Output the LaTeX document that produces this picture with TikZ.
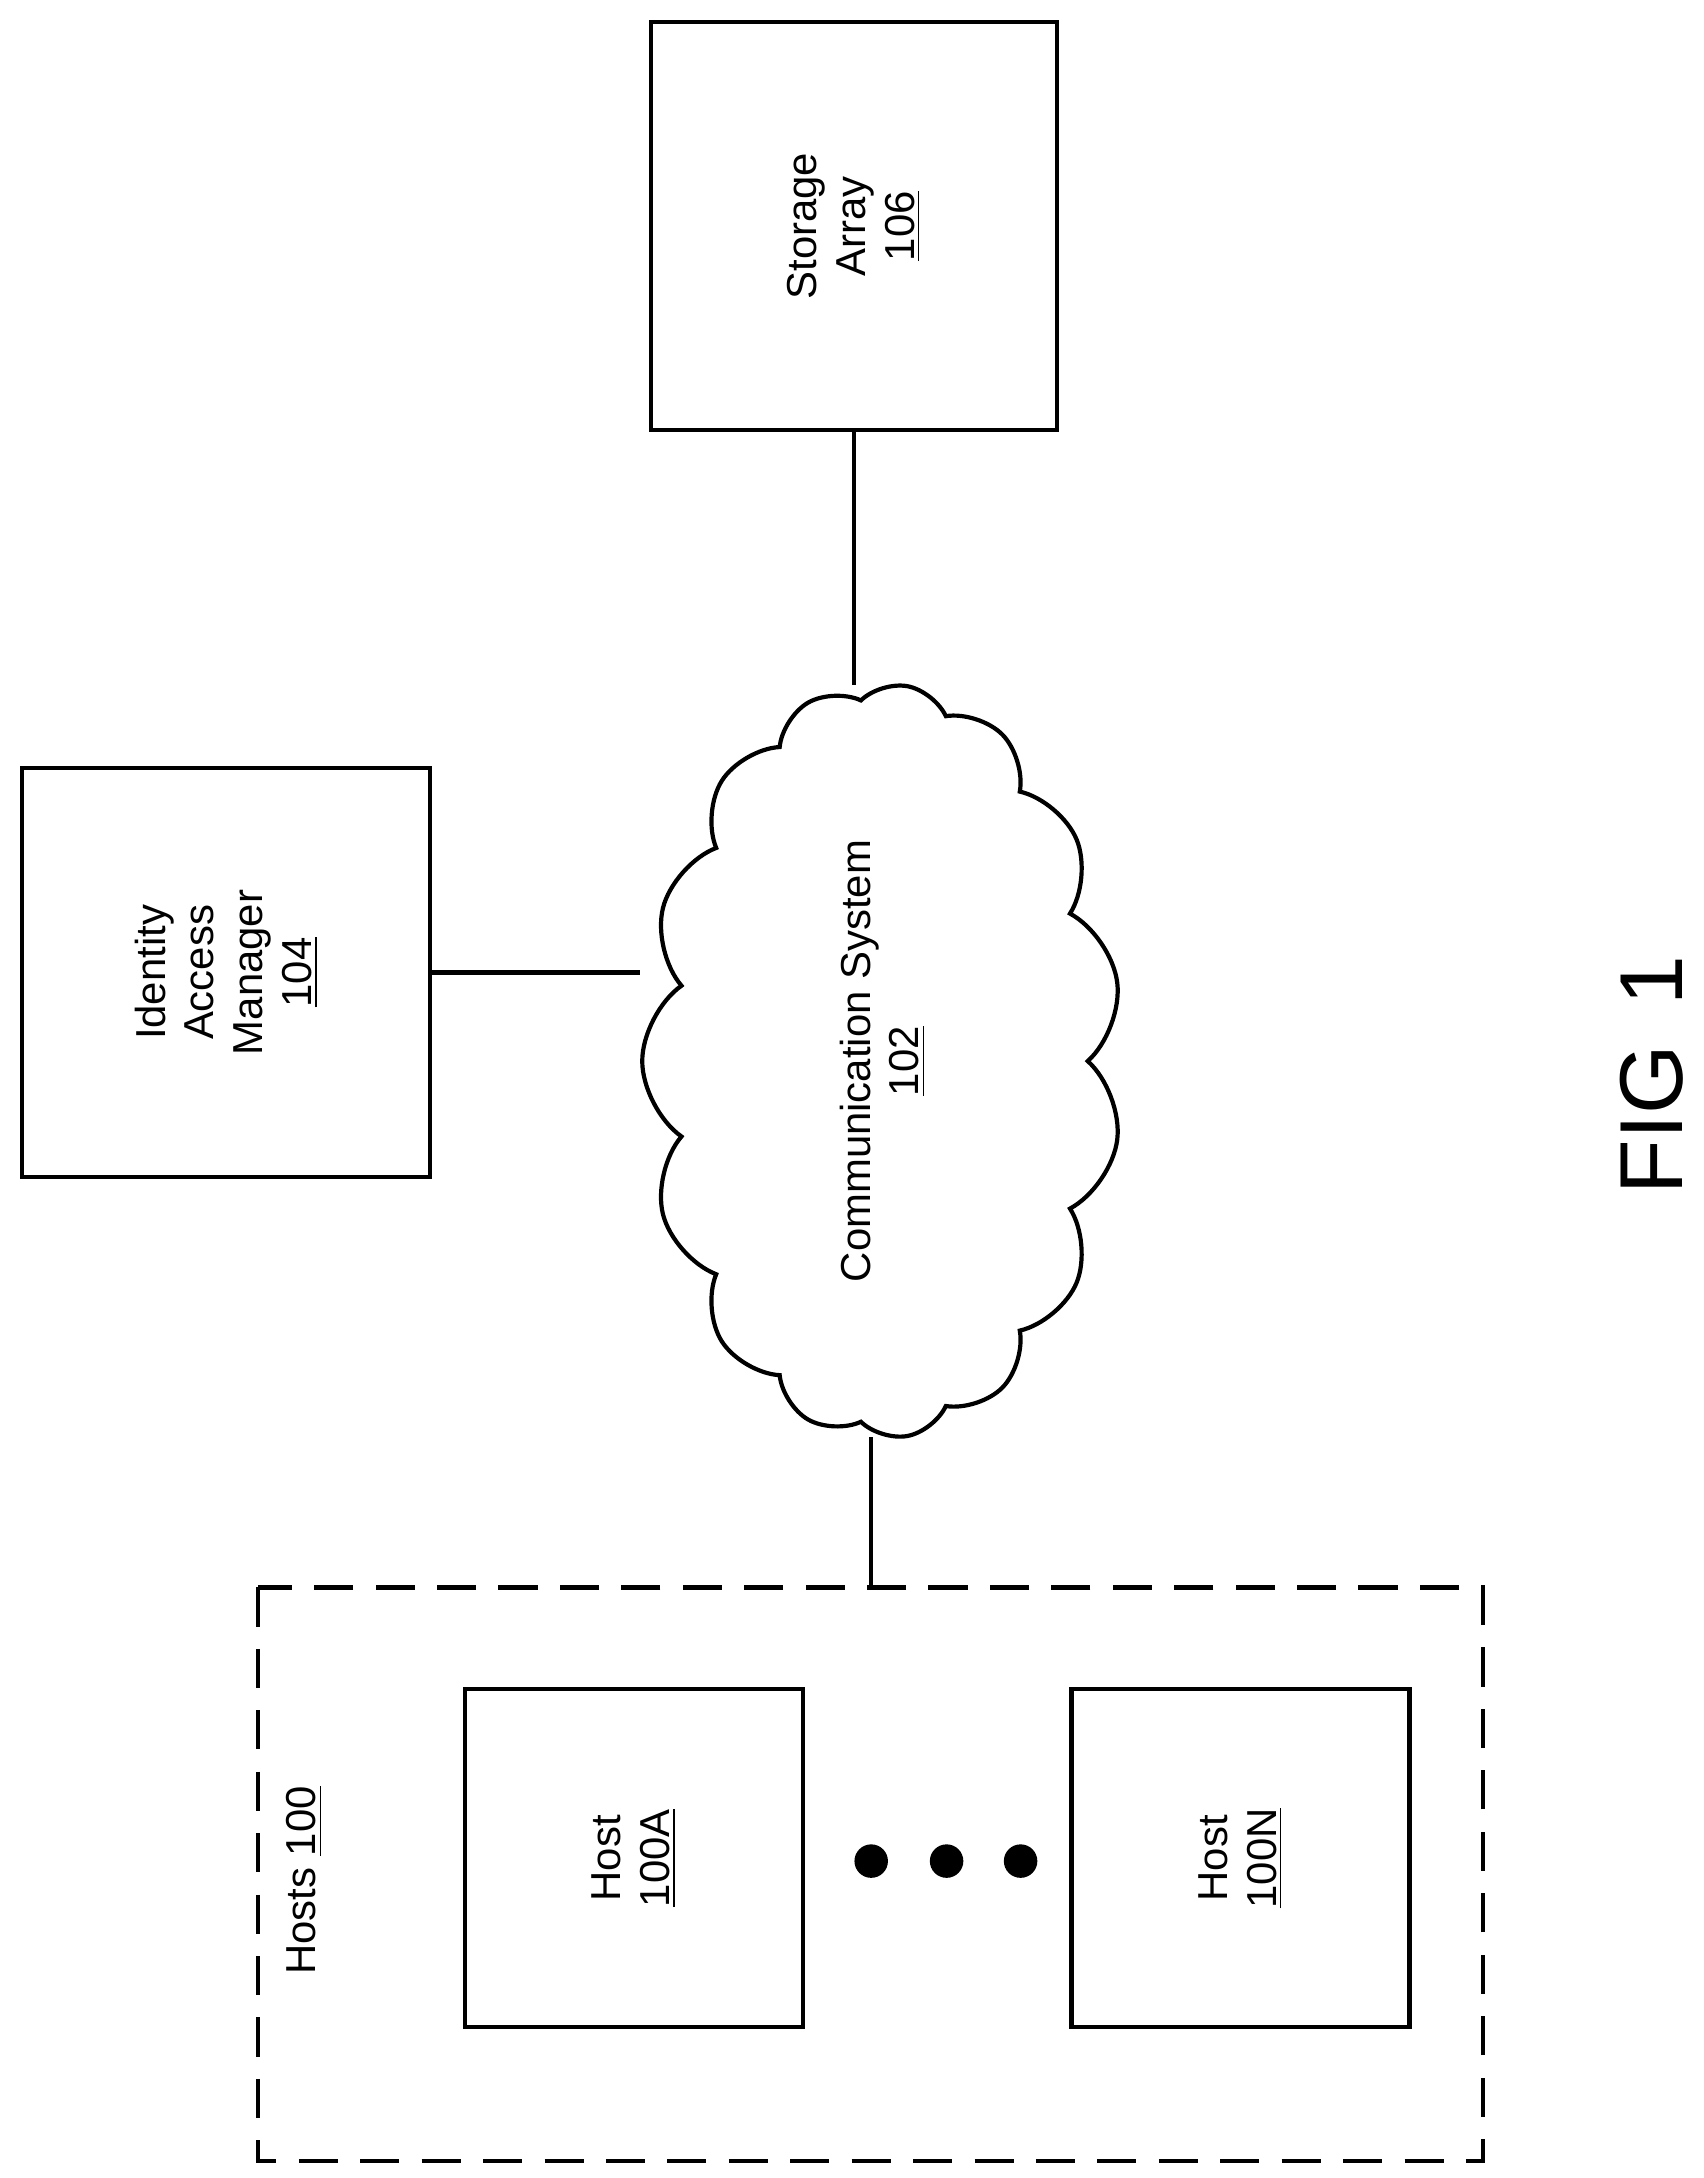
\documentclass[tikz,border=0pt]{standalone}
\usepackage{fontspec}
\setmainfont{Liberation Sans}
\usetikzlibrary{shapes.symbols}

\tikzset{
  box/.style={draw, line width=1.5pt, minimum size=143pt, align=center, rotate=90},
  lbl/.style={font=\fontsize{15}{17.5}\selectfont},
  wire/.style={line width=1.5pt}
}

\begin{document}
\begin{tikzpicture}[x=0.5pt, y=-0.5pt, lbl]
  \useasboundingbox (0,0) rectangle (1220,1560);

  % storage and identity manager
  \node[box, minimum width=146pt, minimum height=145.5pt] (array) at (611.5,162) {Storage\\Array\\\underline{106}};
  \node[box, minimum width=146.5pt, minimum height=146pt] (iam) at (162,696.5) {Identity\\Access\\Manager\\\underline{104}};

  % network cloud
  \node[cloud, draw, line width=1.5pt, cloud puffs=15, cloud puff arc=110, aspect=1.6,
        minimum width=270pt, minimum height=172pt, rotate=90, align=center]
        (net) at (632,760) {Communication System\\\underline{102}};

  \draw[wire] (array.west) -- (array.west |- net.east);
  \draw[wire] (iam.south) -- (net.north |- iam.south);

  % hosts group
  \draw[line width=1.5pt, dash pattern=on 14pt off 8pt] (185,1137) rectangle (1062,1548);
  \coordinate (group) at (624,1137);
  \draw[wire] (group) -- (group |- net.west);
  \node[rotate=90] (grp) at (218,1347) {Hosts \underline{100}};

  \node[box, minimum width=121pt, minimum height=121pt] (hostA) at (454,1331) {Host\\\underline{100A}};
  \node[box, minimum width=121pt, minimum height=121pt] (hostN) at (888.5,1331) {Host\\\underline{100N}};
  \foreach \x in {624,678,731}
    \fill (\x,1333) circle (6pt);

  \node[rotate=90, font=\fontsize{32}{36}\selectfont] (fig) at (1183,770) {FIG\, 1};
\end{tikzpicture}
\end{document}
